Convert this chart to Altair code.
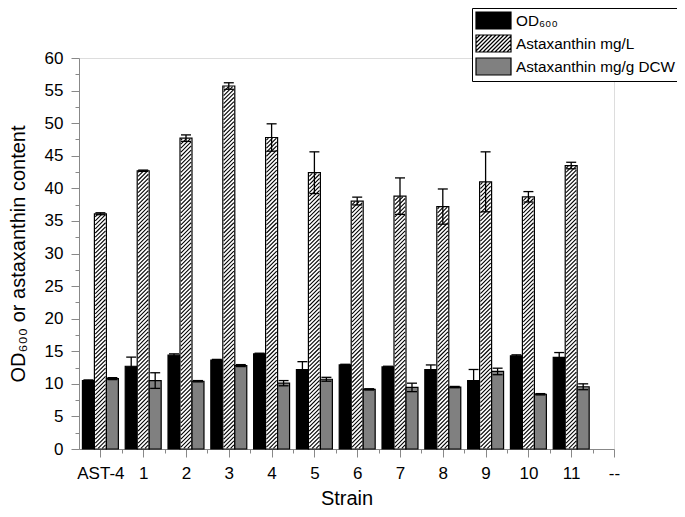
import json
import altair as alt
import pandas as pd

# ---------------- data ----------------
strains = ["AST-4", "1", "2", "3", "4", "5", "6", "7", "8", "9", "10", "11"]
x_labels = strains + ["--"]
series = ["OD₆₀₀", "Astaxanthin mg/L", "Astaxanthin mg/g DCW"]

od600 = [10.5, 12.7, 14.4, 13.65, 14.6, 12.2, 12.9, 12.6, 12.2, 10.5, 14.3, 14.05]
od600_err = [0.1, 1.4, 0.2, 0.1, 0.1, 1.2, 0.1, 0.1, 0.7, 1.7, 0.15, 0.75]
ast_mgL = [36.1, 42.7, 47.7, 55.7, 47.8, 42.4, 38.05, 38.8, 37.2, 41.0, 38.7, 43.5]
ast_mgL_err = [0.15, 0.1, 0.5, 0.5, 2.1, 3.2, 0.6, 2.8, 2.7, 4.6, 0.8, 0.5]
ast_mgg = [10.8, 10.5, 10.4, 12.8, 10.1, 10.7, 9.15, 9.45, 9.5, 11.9, 8.4, 9.55]
ast_mgg_err = [0.15, 1.2, 0.1, 0.15, 0.4, 0.3, 0.1, 0.65, 0.1, 0.5, 0.1, 0.45]

y_major = list(range(0, 61, 5))
y_minor = [v + 2.5 for v in range(0, 60, 5)]
x_major = list(range(0, 13))
x_minor = [i + 0.5 for i in range(0, 12)]

rows = []
for s_i, (vals, errs) in enumerate([(od600, od600_err), (ast_mgL, ast_mgL_err), (ast_mgg, ast_mgg_err)]):
    for i, (v, e) in enumerate(zip(vals, errs)):
        rows.append({"idx": i, "strain": strains[i], "series": series[s_i], "s": s_i, "v": v, "e": e})
df = pd.DataFrame(rows)

# ---------------- styling ----------------
FONT = "Liberation Sans, Arial, sans-serif"
W_PLOT, H_PLOT = 535, 391
BAR_W = 0.28
px_x = W_PLOT / 12.5
px_y = H_PLOT / 60.0
HW = 0.24                     # hatch width (data units of x)
HD = HW * px_x / px_y         # rise across bar for 45 degrees (data units of y)
HS = 0.62                     # vertical spacing between hatch lines

# legend symbol paths: symbolSize 289 -> scale 8.5 px per path unit -> 35 x 17 px swatch
hx = 35 / 17.0
hy = 1.0
rect_path = f"M{-hx:.3f},{-hy}H{hx:.3f}V{hy}H{-hx:.3f}Z"
segs = []
step = 0.47
c = -hx - 2 * hy + step
while c < hx:
    x_start, y_start = c, hy
    x_end, y_end = c + 2 * hy, -hy
    if x_start < -hx:
        y_start = hy - (-hx - c)
        x_start = -hx
    if x_end > hx:
        y_end = hy - (hx - c)
        x_end = hx
    segs.append(f"M{x_start:.3f},{y_start:.3f}L{x_end:.3f},{y_end:.3f}")
    c += step
hatch_path = rect_path + "".join(segs)
shape_range = [rect_path, hatch_path, rect_path]

color_scale = alt.Scale(domain=series, range=["#000000", "#ffffff", "#808080"])
legend = alt.Legend(
    title=None, orient="none", legendX=393, legendY=-50,
    strokeColor="black", fillColor="white", padding=3,
    labelFont=FONT, labelFontSize=15.3, labelColor="black", labelLimit=400,
    symbolSize=289, symbolStrokeWidth=1.2, rowPadding=0,
    symbolOffset=9, labelOffset=13,
)

x_scale = alt.Scale(domain=[-0.5, 12], nice=False, zero=False)
y_scale = alt.Scale(domain=[0, 60], nice=False)

label_expr = json.dumps(x_labels) + "[round(datum.value)]"

x_axis_major = alt.Axis(
    orient="bottom", values=x_major, labelExpr=label_expr, title="Strain", grid=False,
    tickSize=8, labelPadding=8, labelFontSize=17, labelFont=FONT,
    titleFont=FONT, titleFontSize=20, titleFontWeight="normal",
    titleX=W_PLOT / 2, titleY=55, titleBaseline="alphabetic", titleAlign="center",
    labelFlush=False, labelOverlap=False,
)
y_axis_major = alt.Axis(
    orient="left", values=y_major, format="d", title="OD₆₀₀ or astaxanthin content", grid=False,
    tickSize=8, labelPadding=8, labelFontSize=17, labelFont=FONT,
    titleFont=FONT, titleFontSize=20, titleFontWeight="normal",
    titleX=-55, titleY=H_PLOT / 2, titleAngle=-90, titleBaseline="alphabetic", titleAlign="center",
    labelFlush=False, labelOverlap=False,
)
x_axis_minor = alt.Axis(orient="bottom", values=x_minor, labels=False, title=None, tickSize=4,
                        domain=False, grid=False)
y_axis_minor = alt.Axis(orient="left", values=y_minor, labels=False, title=None, tickSize=4,
                        domain=False, grid=False)

base = alt.Chart(df).transform_calculate(
    xc=f"datum.idx + (datum.s - 1) * {BAR_W}",
).transform_calculate(
    x0=f"datum.xc - {BAR_W / 2}",
    x1=f"datum.xc + {BAR_W / 2}",
    lo="datum.v - datum.e",
    hi="datum.v + datum.e",
)

bars = base.mark_bar(stroke="black", strokeWidth=1.2).encode(
    x=alt.X("x0:Q", scale=x_scale, axis=x_axis_major),
    x2="x1:Q",
    y=alt.Y("v:Q", scale=y_scale, axis=y_axis_major),
    y2=alt.datum(0),
    color=alt.Color("series:N", scale=color_scale, legend=legend),
)

hatch = base.transform_filter(
    "datum.s == 1"
).transform_calculate(
    k=f"sequence(0, ceil((datum.v + {HD}) / {HS}) + 1)"
).transform_flatten(["k"]).transform_calculate(
    y0=f"datum.k * {HS} - {HD}",
    xa=f"datum.xc - {HW / 2}",
).transform_calculate(
    hy0="max(datum.y0, 0.1)",
    hy1=f"min(datum.y0 + {HD}, datum.v - 0.1)",
).transform_calculate(
    hx0=f"datum.xa + (datum.hy0 - datum.y0) / {HD} * {HW}",
    hx1=f"datum.xa + (datum.hy1 - datum.y0) / {HD} * {HW}",
).transform_filter("datum.hy1 > datum.hy0 + 0.02").mark_rule(color="black", strokeWidth=1.1).encode(
    x=alt.X("hx0:Q", scale=x_scale, axis=None),
    x2="hx1:Q",
    y=alt.Y("hy0:Q", scale=y_scale, axis=None),
    y2="hy1:Q",
)

err_lines = base.mark_rule(color="black", strokeWidth=1.3).encode(
    x=alt.X("xc:Q", scale=x_scale, axis=x_axis_minor),
    y=alt.Y("lo:Q", scale=y_scale, axis=y_axis_minor),
    y2="hi:Q",
)

err_caps = base.transform_fold(["lo", "hi"], as_=["end", "ev"]).mark_tick(
    orient="horizontal", size=10, thickness=1.3, color="black", opacity=1
).encode(
    x=alt.X("xc:Q", scale=x_scale, axis=None),
    y=alt.Y("ev:Q", scale=y_scale, axis=None),
)

legend_layer = alt.Chart(df).transform_filter("false").mark_point(filled=True, opacity=1).encode(
    x=alt.X("idx:Q", scale=x_scale, axis=None),
    y=alt.Y("v:Q", scale=y_scale, axis=None),
    shape=alt.Shape("series:N", scale=alt.Scale(domain=series, range=shape_range), legend=legend),
    color=alt.Color("series:N", scale=color_scale, legend=legend),
    stroke=alt.Stroke("series:N", scale=alt.Scale(domain=series, range=["black", "black", "black"]), legend=legend),
)

chart = alt.layer(bars, hatch, err_lines, err_caps, legend_layer).resolve_axis(
    x="independent", y="independent"
).properties(
    width=W_PLOT, height=H_PLOT,
    autosize=alt.AutoSizeParams(type="none"),
    padding={"left": 71, "top": 50, "right": 63, "bottom": 59},
).configure_axis(
    grid=False, gridOpacity=0, domainColor="black", domainWidth=1.5, tickColor="black", tickWidth=1.5,
    labelColor="black", titleColor="black",
).configure_view(strokeWidth=0, stroke="transparent").configure(font=FONT)

chart.save("out.html", embed_options={"renderer": "svg", "actions": False})
